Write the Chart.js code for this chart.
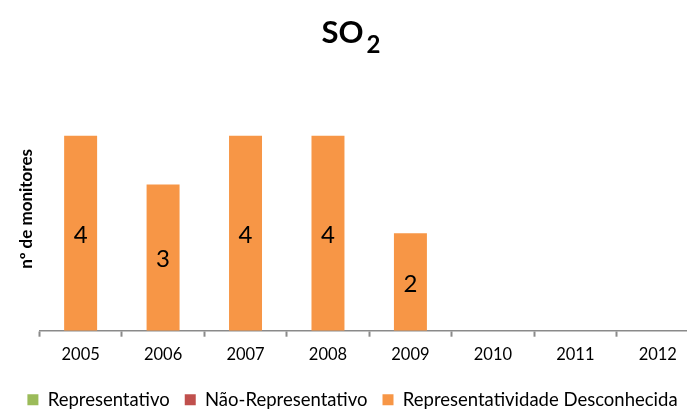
<!DOCTYPE html>
<html>
<head>
<meta charset="utf-8">
<script src="https://cdn.jsdelivr.net/npm/chart.js@4.4.1/dist/chart.umd.min.js"></script>
<style>
  html, body { margin: 0; padding: 0; background: #fff; overflow: hidden; }
  #wrap { width: 706px; height: 430px; }
</style>
</head>
<body>
<div id="wrap"><canvas id="so2-chart"></canvas></div>
<script>
const years = ['2005', '2006', '2007', '2008', '2009', '2010', '2011', '2012'];
const representativo = [0, 0, 0, 0, 0, 0, 0, 0];
const naoRepresentativo = [0, 0, 0, 0, 0, 0, 0, 0];
const desconhecida = [4, 3, 4, 4, 2, 0, 0, 0];

const FONT = 'Lato, "Open Sans", sans-serif';

// value in the middle of each bar
const barValues = {
  id: 'barValues',
  afterDatasetsDraw(chart) {
    const ctx = chart.ctx;
    ctx.save();
    ctx.font = '24px ' + FONT;
    ctx.fillStyle = '#000';
    ctx.textAlign = 'center';
    ctx.textBaseline = 'middle';
    chart.data.datasets.forEach((ds, i) => {
      const meta = chart.getDatasetMeta(i);
      meta.data.forEach((bar, j) => {
        const v = ds.data[j];
        if (!v) return;
        ctx.fillText(String(v), bar.x, (bar.y + bar.base) / 2 + 2);
      });
    });
    ctx.restore();
  }
};

// title "SO2" with the 2 as a subscript
const formulaTitle = {
  id: 'formulaTitle',
  afterDraw(chart) {
    const ctx = chart.ctx;
    ctx.save();
    ctx.fillStyle = '#000';
    ctx.textBaseline = 'alphabetic';
    ctx.textAlign = 'left';
    const big = 'bold 31px ' + FONT;
    const small = 'bold 24px ' + FONT;
    ctx.font = big;
    const w1 = ctx.measureText('SO').width;
    ctx.font = small;
    const w2 = ctx.measureText('2').width;
    const x0 = chart.width / 2 - (w1 + 3 + w2) / 2 - 2;
    ctx.font = big;
    ctx.fillText('SO', x0, 43);
    ctx.font = small;
    ctx.fillText('2', x0 + w1 + 3, 53);
    ctx.restore();
  }
};

new Chart(document.getElementById('so2-chart').getContext('2d'), {
  type: 'bar',
  data: {
    labels: years,
    datasets: [
      { label: 'Representativo', data: representativo, backgroundColor: '#9BBB59' },
      { label: 'Não-Representativo', data: naoRepresentativo, backgroundColor: '#C0504D' },
      { label: 'Representatividade Desconhecida', data: desconhecida, backgroundColor: '#F79646' }
    ]
  },
  options: {
    responsive: true,
    maintainAspectRatio: false,
    animation: false,
    categoryPercentage: 1,
    barPercentage: 0.4,
    layout: { padding: { left: 6, right: 7, top: 87, bottom: 11 } },
    plugins: {
      title: { display: false },
      legend: {
        position: 'bottom',
        labels: {
          color: '#000',
          font: { family: FONT, size: 18.5 },
          boxWidth: 11,
          boxHeight: 11,
          padding: 15
        }
      },
      tooltip: { enabled: false }
    },
    scales: {
      x: {
        stacked: true,
        grid: {
          display: true,
          offset: true,
          drawOnChartArea: false,
          drawTicks: true,
          tickLength: 6,
          tickWidth: 2,
          tickColor: '#8a8a8a',
          color: '#8a8a8a'
        },
        border: { display: true, color: '#8a8a8a', width: 1.5 },
        ticks: {
          color: '#000',
          font: { family: FONT, size: 16.5 },
          padding: 8,
          maxRotation: 0
        },
        afterFit(scale) { scale.height += 3; }
      },
      y: {
        stacked: true,
        min: 0,
        max: 5,
        grid: { display: false, drawTicks: false },
        border: { display: false },
        ticks: { display: false },
        title: {
          display: true,
          text: 'nº de monitores',
          color: '#000',
          font: { family: FONT, size: 17, weight: 'bold' },
          padding: { top: 10, bottom: 3 }
        }
      }
    }
  },
  plugins: [barValues, formulaTitle]
});
</script>
</body>
</html>
